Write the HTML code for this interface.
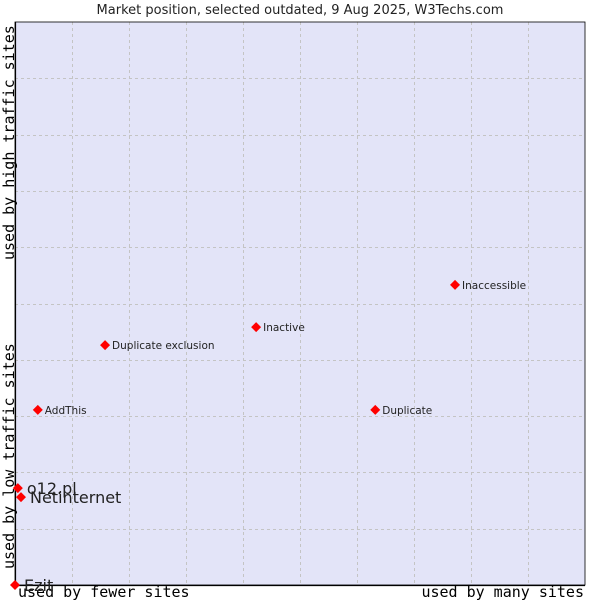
<!DOCTYPE html>
<html><head><meta charset="utf-8"><style>
body{margin:0;background:#fff;width:600px;height:600px;overflow:hidden}
</style></head><body>
<svg width="600" height="600" xmlns="http://www.w3.org/2000/svg">
<text x="300" y="14" text-anchor="middle" font-family="DejaVu Sans, sans-serif" font-size="13" fill="#222">Market position, selected outdated, 9 Aug 2025, W3Techs.com</text>
<rect x="15" y="22" width="570" height="563" fill="#e3e4f8"/>
<g id="grid" stroke="#c4c4c4" stroke-dasharray="3,3" stroke-width="1"></g>
<path d="M15.5 22 V585.5 H585" fill="none" stroke="#000" stroke-width="1.2"/>
<rect x="15" y="22" width="570" height="563" fill="none" stroke="#000" stroke-width="0.8"/>
<text x="18" y="597" font-family="DejaVu Sans Mono, Liberation Mono, monospace" font-size="15" fill="#000">used by fewer sites</text>
<text x="584" y="597" text-anchor="end" font-family="DejaVu Sans Mono, Liberation Mono, monospace" font-size="15" fill="#000">used by many sites</text>
<text transform="translate(14,569) rotate(-90)" font-family="DejaVu Sans Mono, Liberation Mono, monospace" font-size="15" fill="#000">used by low traffic sites</text>
<text transform="translate(14,260) rotate(-90)" font-family="DejaVu Sans Mono, Liberation Mono, monospace" font-size="15" fill="#000">used by high traffic sites</text>
<g id="points"></g>
</svg>
<script>
const names=["Inaccessible","Inactive","Duplicate exclusion","AddThis","Duplicate","o12.pl","Netinternet","Ezit"];
const xVals=[77.2,42.3,15.8,4.0,63.2,0.5,1.05,0];
const yVals=[53.3,45.8,42.6,31.1,31.1,17.2,15.6,0];
const big=[false,false,false,false,false,true,true,true];
const X=v=>15+v*5.7, Y=v=>585-v*5.63;
const ns="http://www.w3.org/2000/svg";
const grid=document.getElementById('grid');
for(let i=1;i<10;i++){
  const l=document.createElementNS(ns,'line');
  
  
  l.setAttribute('x1',Math.round(X(i*10))+0.5);l.setAttribute('x2',Math.round(X(i*10))+0.5);
  l.setAttribute('y1',22);l.setAttribute('y2',585);grid.appendChild(l);
  const h=document.createElementNS(ns,'line');
  
  
  h.setAttribute('y1',Math.round(Y(i*10))+0.5);h.setAttribute('y2',Math.round(Y(i*10))+0.5);
  h.setAttribute('x1',15);h.setAttribute('x2',585);grid.appendChild(h);
}
const g=document.getElementById('points');
names.forEach((n,i)=>{
  const x=X(xVals[i]),y=Y(yVals[i]);
  const p=document.createElementNS(ns,'path');
  
  
  p.setAttribute('d',`M${x} ${y-5} L${x+5} ${y} L${x} ${y+5} L${x-5} ${y} Z`);
  p.setAttribute('fill','#f00');g.appendChild(p);
  const t=document.createElementNS(ns,'text');
  
  
  t.setAttribute('x',x+(big[i]?9:7));
  t.setAttribute('y',y+(big[i]?6:4));
  t.setAttribute('font-family','DejaVu Sans, sans-serif');
  t.setAttribute('font-size',big[i]?16:10.5);
  t.setAttribute('fill','#222');
  t.textContent=n;g.appendChild(t);
});
</script>
</body></html>
